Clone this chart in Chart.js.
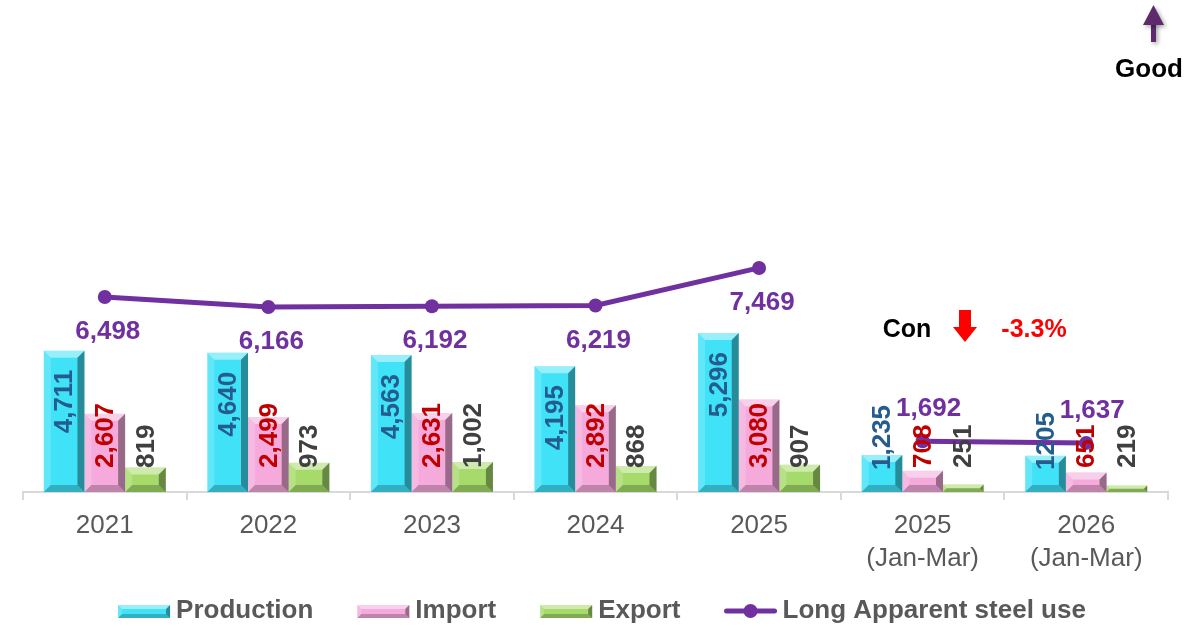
<!DOCTYPE html>
<html>
<head>
<meta charset="utf-8">
<script src="https://cdn.jsdelivr.net/npm/chart.js@4.4.1/dist/chart.umd.min.js"></script>
<style>
  body { margin: 0; background: #fff; }
  #wrap { width: 1196px; height: 627px; }
</style>
</head>
<body>
<div id="wrap"><canvas id="chart" width="1196" height="627"></canvas></div>
<script>
const FONT = "'Liberation Sans', Arial, sans-serif";

const categories = ['2021', '2022', '2023', '2024', '2025', ['2025', '(Jan-Mar)'], ['2026', '(Jan-Mar)']];
const production = [4711, 4640, 4563, 4195, 5296, 1235, 1205];
const imports = [2607, 2499, 2631, 2892, 3080, 708, 651];
const exports = [819, 973, 1002, 868, 907, 251, 219];
const apparentUse = [6498, 6166, 6192, 6219, 7469, 1692, 1637];
const productionText = ['4,711', '4,640', '4,563', '4,195', '5,296', '1,235', '1205'];

const purple = '#7030A0';
const barColors = ['#40E2F8', '#F5AADB', '#A6DB6B'];
const labelColors = ['#255C8E', '#C00000', '#404040'];

function fmt(v) { return v.toLocaleString('en-US'); }

// bevelled look of the bars
function bevel(ctx, l, t, r, bot, b) {
    const shape = (pts, fill) => {
        ctx.beginPath();
        ctx.moveTo(pts[0][0], pts[0][1]);
        pts.slice(1).forEach(p => ctx.lineTo(p[0], p[1]));
        ctx.closePath();
        ctx.fillStyle = fill;
        ctx.fill();
    };
    shape([[l, t], [r, t], [r - b, t + b], [l + b, t + b]], 'rgba(255,255,255,0.45)');
    shape([[l, t], [l + b, t + b], [l + b, bot - b], [l, bot]], 'rgba(255,255,255,0.18)');
    shape([[r, t], [r - b, t + b], [r - b, bot - b], [r, bot]], 'rgba(0,0,0,0.38)');
    shape([[l, bot], [l + b, bot - b], [r - b, bot - b], [r, bot]], 'rgba(0,0,0,0.22)');
}

const bevelPlugin = {
    id: 'bevel',
    afterDatasetDraw(chart, args) {
        if (args.meta.type !== 'bar') return;
        const ctx = chart.ctx;
        ctx.save();
        args.meta.data.forEach(bar => {
            const p = bar.getProps(['x', 'y', 'base', 'width'], true);
            const l = p.x - p.width / 2, r = p.x + p.width / 2;
            const h = p.base - p.y;
            bevel(ctx, l, p.y, r, p.base, Math.min(7, h / 2));
        });
        ctx.restore();
    }
};

const labelPlugin = {
    id: 'labels',
    afterDatasetsDraw(chart) {
        const ctx = chart.ctx;
        const baseY = chart.scales.y.getPixelForValue(0);
        ctx.save();
        ctx.textBaseline = 'middle';
        ctx.textAlign = 'left';
        for (let d = 0; d < 3; d++) {
            const meta = chart.getDatasetMeta(d);
            ctx.font = 'bold 26px ' + FONT;
            ctx.fillStyle = labelColors[d];
            meta.data.forEach((bar, i) => {
                const text = d === 0 ? productionText[i] : fmt(chart.data.datasets[d].data[i]);
                const w = ctx.measureText(text).width;
                let start;
                if (d === 0) start = Math.min(bar.y + 19 + w, baseY - 22);
                else start = baseY - 24;
                ctx.save();
                ctx.translate(bar.x + 1, start);
                ctx.rotate(-Math.PI / 2);
                ctx.fillText(text, 0, 0);
                ctx.restore();
            });
        }
        const lineMeta = chart.getDatasetMeta(3);
        ctx.font = 'bold 26px ' + FONT;
        ctx.fillStyle = purple;
        ctx.textAlign = 'center';
        lineMeta.data.forEach((pt, i) => {
            const text = fmt(apparentUse[i]);
            if (i < 5) ctx.fillText(text, pt.x + 3, pt.y + 35);
            else ctx.fillText(text, pt.x + 6, pt.y - 32);
        });
        ctx.restore();
    }
};

const extrasPlugin = {
    id: 'extras',
    afterDraw(chart) {
        const ctx = chart.ctx;
        ctx.save();
        // "Good" arrow
        ctx.shadowColor = 'rgba(0,0,0,0.35)';
        ctx.shadowBlur = 4;
        ctx.shadowOffsetX = 2;
        ctx.shadowOffsetY = 2;
        ctx.fillStyle = '#5E2A6C';
        ctx.fillRect(1151, 22, 5, 20);
        ctx.beginPath();
        ctx.moveTo(1143, 25); ctx.lineTo(1164, 25); ctx.lineTo(1153.5, 5); ctx.closePath();
        ctx.fill();
        ctx.shadowColor = 'transparent';

        ctx.textBaseline = 'middle';
        ctx.textAlign = 'center';
        ctx.fillStyle = '#000';
        ctx.font = 'bold 26px ' + FONT;
        ctx.fillText('Good', 1149, 70);

        ctx.font = 'bold 25px ' + FONT;
        ctx.fillText('Con', 907, 330);
        ctx.fillStyle = '#FF0000';
        ctx.fillRect(959, 310, 12, 18);
        ctx.beginPath();
        ctx.moveTo(953, 327); ctx.lineTo(977, 327); ctx.lineTo(965, 342); ctx.closePath();
        ctx.fill();
        ctx.fillText('-3.3%', 1034, 330);

        // legend
        const names = chart.data.datasets.map(ds => ds.label);
        ctx.font = 'bold 26px ' + FONT;
        ctx.textAlign = 'left';
        const iconW = 52, gapIcon = 6, gapItem = 44, y = 611;
        const widths = names.map(n => iconW + gapIcon + ctx.measureText(n).width);
        const total = widths.reduce((a, b) => a + b, 0) + gapItem * (names.length - 1);
        let x = chart.width / 2 - total / 2 + 4;
        names.forEach((n, i) => {
            if (i < 3) {
                ctx.fillStyle = barColors[i];
                ctx.fillRect(x, y - 6, iconW, 13);
                bevel(ctx, x, y - 6, x + iconW, y + 7, 4);
            } else {
                ctx.strokeStyle = purple;
                ctx.lineWidth = 5;
                ctx.lineCap = 'round';
                ctx.beginPath();
                ctx.moveTo(x + 2, y); ctx.lineTo(x + iconW - 2, y);
                ctx.stroke();
                ctx.fillStyle = purple;
                ctx.beginPath();
                ctx.arc(x + iconW / 2, y, 7, 0, Math.PI * 2);
                ctx.fill();
            }
            ctx.fillStyle = '#595959';
            ctx.fillText(n, x + iconW + gapIcon, y);
            x += widths[i] + gapItem;
        });
        ctx.restore();
    }
};

new Chart(document.getElementById('chart'), {
    type: 'bar',
    data: {
        labels: categories,
        datasets: [
            { label: 'Production', data: production, backgroundColor: barColors[0], order: 1 },
            { label: 'Import', data: imports, backgroundColor: barColors[1], order: 1 },
            { label: 'Export', data: exports, backgroundColor: barColors[2], order: 1 },
            {
                label: 'Long Apparent steel use',
                type: 'line',
                data: apparentUse,
                borderColor: purple,
                backgroundColor: purple,
                borderWidth: 5,
                pointRadius: 7,
                pointBackgroundColor: purple,
                pointBorderWidth: 0,
                tension: 0,
                order: 0,
                segment: {
                    borderColor: c => c.p0DataIndex === 4 ? 'rgba(0,0,0,0)' : purple
                }
            }
        ]
    },
    options: {
        responsive: false,
        animation: false,
        categoryPercentage: 0.746,
        barPercentage: 1.0,
        layout: { padding: { left: 23, right: 28, top: 12, bottom: 42 } },
        plugins: {
            legend: { display: false },
            tooltip: { enabled: false }
        },
        scales: {
            x: {
                grid: {
                    offset: true,
                    drawOnChartArea: false,
                    drawTicks: true,
                    tickLength: 8,
                    color: '#D9D9D9',
                    lineWidth: 2
                },
                border: { display: true, color: '#D9D9D9', width: 2 },
                ticks: {
                    color: '#595959',
                    font: { family: FONT, size: 26, lineHeight: 1.25 },
                    padding: 10,
                    maxRotation: 0,
                    autoSkip: false
                }
            },
            y: {
                display: false,
                min: 0,
                max: 16000
            }
        }
    },
    plugins: [bevelPlugin, labelPlugin, extrasPlugin]
});
</script>
</body>
</html>
